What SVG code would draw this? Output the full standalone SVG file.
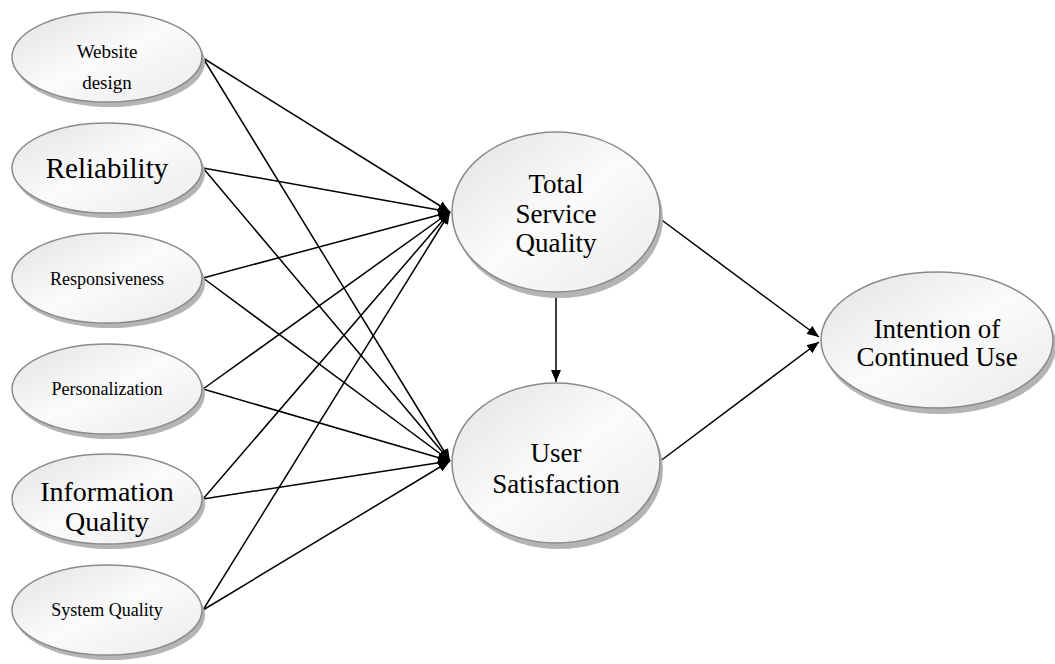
<svg xmlns="http://www.w3.org/2000/svg" width="1055" height="664" viewBox="0 0 1055 664">
<defs>
<linearGradient id="fill" x1="0" y1="0" x2="1" y2="1">
<stop offset="0" stop-color="#e2e2e2"/>
<stop offset="0.5" stop-color="#fbfbfb"/>
<stop offset="1" stop-color="#eaeaea"/>
</linearGradient>
<marker id="ah" viewBox="0 0 12 10" refX="12" refY="5" markerWidth="12" markerHeight="10" markerUnits="userSpaceOnUse" orient="auto">
<path d="M0,0 L12,5 L0,10 Z" fill="#000"/>
</marker>
<style>
.sh{fill:#b4b4b4;}
.el{fill:url(#fill);stroke:#8a8a8a;stroke-width:1.5;}
.t{font-family:"Liberation Serif","Times New Roman",serif;fill:#000;text-anchor:middle;}
.c{stroke:#000;stroke-width:1.5;fill:none;marker-end:url(#ah);}
</style>
</defs>
<rect width="1055" height="664" fill="#fff"/>
<g id="connectors">
<line class="c" x1="203" y1="58" x2="450" y2="212"/>
<line class="c" x1="203" y1="58" x2="450" y2="461"/>
<line class="c" x1="203" y1="168" x2="450" y2="212"/>
<line class="c" x1="203" y1="168" x2="450" y2="461"/>
<line class="c" x1="203" y1="278" x2="450" y2="212"/>
<line class="c" x1="203" y1="278" x2="450" y2="461"/>
<line class="c" x1="203" y1="389" x2="450" y2="212"/>
<line class="c" x1="203" y1="389" x2="450" y2="461"/>
<line class="c" x1="203" y1="499" x2="450" y2="212"/>
<line class="c" x1="203" y1="499" x2="450" y2="461"/>
<line class="c" x1="203" y1="610" x2="450" y2="212"/>
<line class="c" x1="203" y1="610" x2="450" y2="461"/>
<line class="c" x1="556" y1="293" x2="556" y2="382"/>
<line class="c" x1="659" y1="218" x2="819" y2="337"/>
<line class="c" x1="659" y1="462" x2="819" y2="342"/>
</g>
<g id="website">
<ellipse class="sh" cx="110" cy="62" rx="95" ry="45"/>
<ellipse class="el" cx="107" cy="57" rx="95" ry="45"/>
<text class="t" x="107" y="58" font-size="19">Website</text>
<text class="t" x="107" y="89" font-size="19">design</text>
</g>
<g id="reliability">
<ellipse class="sh" cx="110" cy="173" rx="95" ry="45"/>
<ellipse class="el" cx="107" cy="168" rx="95" ry="45"/>
<text class="t" x="107" y="178" font-size="29">Reliability</text>
</g>
<g id="responsiveness">
<ellipse class="sh" cx="110" cy="283" rx="95" ry="45"/>
<ellipse class="el" cx="107" cy="278" rx="95" ry="45"/>
<text class="t" x="107" y="285" font-size="18">Responsiveness</text>
</g>
<g id="personalization">
<ellipse class="sh" cx="110" cy="394" rx="95" ry="45"/>
<ellipse class="el" cx="107" cy="389" rx="95" ry="45"/>
<text class="t" x="107" y="395" font-size="18">Personalization</text>
</g>
<g id="information">
<ellipse class="sh" cx="110" cy="504" rx="95" ry="45"/>
<ellipse class="el" cx="107" cy="499" rx="95" ry="45"/>
<text class="t" x="107" y="501" font-size="28">Information</text>
<text class="t" x="107" y="531" font-size="28">Quality</text>
</g>
<g id="system">
<ellipse class="sh" cx="110" cy="615" rx="95" ry="45"/>
<ellipse class="el" cx="107" cy="610" rx="95" ry="45"/>
<text class="t" x="107" y="616" font-size="18">System Quality</text>
</g>
<g id="tsq">
<ellipse class="sh" cx="559" cy="218" rx="104" ry="80"/>
<ellipse class="el" cx="556" cy="212" rx="104" ry="80"/>
<text class="t" x="556" y="193" font-size="27">Total</text>
<text class="t" x="556" y="223" font-size="27">Service</text>
<text class="t" x="556" y="252" font-size="27">Quality</text>
</g>
<g id="us">
<ellipse class="sh" cx="559" cy="469" rx="104" ry="80"/>
<ellipse class="el" cx="556" cy="463" rx="104" ry="80"/>
<text class="t" x="556" y="462" font-size="27">User</text>
<text class="t" x="556" y="493" font-size="27">Satisfaction</text>
</g>
<g id="icu">
<ellipse class="sh" cx="940" cy="346" rx="116" ry="68"/>
<ellipse class="el" cx="937" cy="340" rx="116" ry="68"/>
<text class="t" x="937" y="338" font-size="27">Intention of</text>
<text class="t" x="937" y="366" font-size="27">Continued Use</text>
</g>
</svg>
